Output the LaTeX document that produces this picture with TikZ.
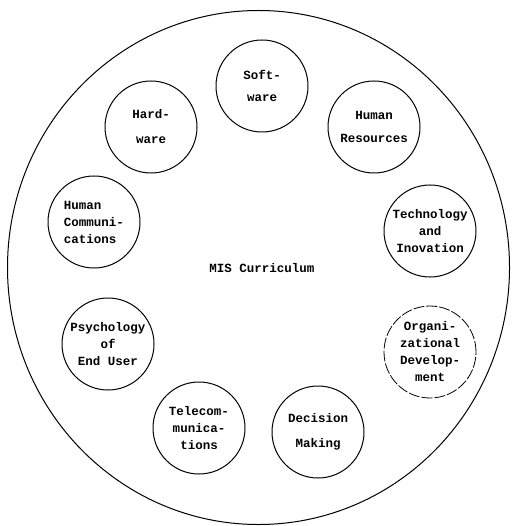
\documentclass[tikz,border=0pt]{standalone}
\usepackage{fontspec}
\setmonofont{Liberation Mono}
\begin{document}
\begin{tikzpicture}[x=1pt,y=-1pt,
  topic/.style={circle, draw, line width=1pt, minimum size=92pt, inner sep=0pt,
    font=\ttfamily\bfseries\fontsize{12.5}{17}\selectfont, align=center},
  faint/.style={line width=0.8pt, dash pattern=on 11pt off 2pt},
  title/.style={font=\ttfamily\bfseries\fontsize{12.5}{15}\selectfont}]
  \useasboundingbox (0,0) rectangle (511,526);
  % outer boundary of the curriculum
  \draw[line width=1pt] (258.5,267.5) ellipse [x radius=251, y radius=257];
  \node[title] (mis) at (262,268) {MIS Curriculum};
  % subject areas arranged around the ring
  \node[topic] (soft) at (262,86) {Soft-\\[5pt]ware};
  \node[topic] (hard) at (151,127) {Hard-\\[8pt]ware};
  \node[topic] (hres) at (374,127) {Human\\[6pt]Resources};
  \node[topic, align=left] (hcom) at (94,222) {Human\\Communi-\\cations};
  \node[topic] (tech) at (430,231) {Technology\\and\\Inovation};
  \node[topic] (psy) at (108,344) {Psychology\\of\\End User};
  \node[topic, faint] (org) at (430,352) {Organi-\\zational\\Develop-\\ment};
  \node[topic] (tele) at (199,428) {Telecom-\\munica-\\tions};
  \node[topic] (dec) at (318,432) {Decision\\[8pt]Making};
\end{tikzpicture}
\end{document}
